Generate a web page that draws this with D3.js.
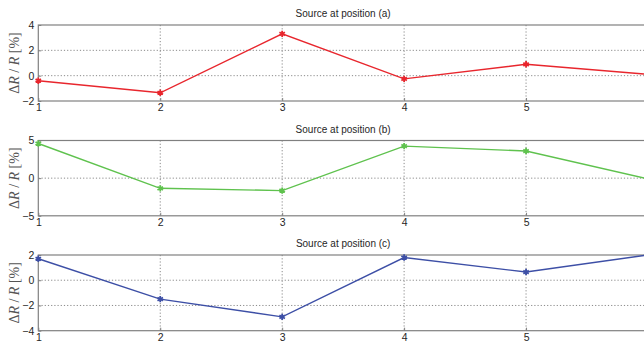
<!DOCTYPE html>
<html>
<head>
<meta charset="utf-8">
<script src="https://cdn.jsdelivr.net/npm/d3@7"></script>
<style>
  html, body { margin: 0; padding: 0; background: #fff; }
  svg { display: block; }
</style>
</head>
<body>
<svg id="chart" width="644" height="344"></svg>
<script>
// Sensor positions along the x axis
const positions = [1, 2, 3, 4, 5, 6];
const xTicks = [1, 2, 3, 4, 5];

// Relative resistance change ΔR/R [%] for each source position
const seriesA = [-0.4, -1.35, 3.3, -0.25, 0.9, 0.1];
const seriesB = [4.6, -1.35, -1.65, 4.25, 3.6, -0.1];
const seriesC = [1.7, -1.5, -2.9, 1.8, 0.65, 2.0];

const titles = ["Source at position (a)", "Source at position (b)", "Source at position (c)"];
const yDomains = [[-2, 4], [-5, 5], [-4, 2]];
const yTicks = [[-2, 0, 2, 4], [-5, 0, 5], [-4, -2, 0, 2]];
const colors = ["#e8262d", "#5fc24e", "#3d4fa6"];
const seriesList = [seriesA, seriesB, seriesC];

const svg = d3.select("#chart");
const x = d3.scaleLinear().domain([1, 6]).range([38.3, 648]);

const panels = [
  { top: 25, bottom: 101 },
  { top: 140.5, bottom: 215.8 },
  { top: 255, bottom: 330.7 }
];

const gridColor = "#8a8a8a";
const boxColor = "#808080";
const textColor = "#262626";
const fmt = d3.format("d");

panels.forEach((p, i) => {
  const y = d3.scaleLinear().domain(yDomains[i]).range([p.bottom, p.top]);
  const g = svg.append("g");

  // dotted grid
  g.selectAll(".gx").data(xTicks.slice(1)).join("line")
    .attr("x1", d => x(d)).attr("x2", d => x(d))
    .attr("y1", p.top).attr("y2", p.bottom)
    .attr("stroke", gridColor).attr("stroke-width", 1)
    .attr("stroke-dasharray", "1.2,2");
  g.selectAll(".gy").data(yTicks[i].filter(t => t !== yDomains[i][0] && t !== yDomains[i][1])).join("line")
    .attr("x1", x(1)).attr("x2", x(6))
    .attr("y1", d => y(d)).attr("y2", d => y(d))
    .attr("stroke", gridColor).attr("stroke-width", 1)
    .attr("stroke-dasharray", "1.2,2");

  // axes box
  g.append("rect")
    .attr("x", x(1)).attr("y", p.top)
    .attr("width", x(6) - x(1)).attr("height", p.bottom - p.top)
    .attr("fill", "none").attr("stroke", boxColor).attr("stroke-width", 1.2);

  // x axis
  const xa = g.append("g").attr("transform", `translate(0,${p.bottom})`)
    .call(d3.axisBottom(x).tickValues(xTicks).tickFormat(fmt).tickSizeInner(-3).tickSizeOuter(0).tickPadding(2.5));
  xa.select(".domain").remove();
  xa.selectAll("line").attr("stroke", boxColor);
  xa.selectAll("text").attr("font-family", "Liberation Sans, Arial, sans-serif")
    .attr("font-size", 10.5).attr("fill", textColor);

  // y axis
  const ya = g.append("g").attr("transform", `translate(${x(1)},0)`)
    .call(d3.axisLeft(y).tickValues(yTicks[i]).tickFormat(fmt).tickSizeInner(-3).tickSizeOuter(0).tickPadding(4));
  ya.select(".domain").remove();
  ya.selectAll("line").attr("stroke", boxColor);
  ya.selectAll("text").attr("font-family", "Liberation Sans, Arial, sans-serif")
    .attr("font-size", 10.5).attr("fill", textColor);

  // title
  g.append("text")
    .attr("x", (x(1) + x(6)) / 2).attr("y", p.top - 8)
    .attr("text-anchor", "middle")
    .attr("font-family", "Liberation Sans, Arial, sans-serif")
    .attr("font-size", 10).attr("fill", textColor)
    .text(titles[i]);

  // y label
  const lab = g.append("text")
    .attr("transform", `translate(19,${(p.top + p.bottom) / 2}) rotate(-90)`)
    .attr("text-anchor", "middle")
    .attr("font-family", "Liberation Serif, Times New Roman, serif")
    .attr("font-size", 14).attr("fill", "#555");
  lab.append("tspan").text("Δ");
  lab.append("tspan").attr("font-style", "italic").text("R");
  lab.append("tspan").text(" / ");
  lab.append("tspan").attr("font-style", "italic").text("R");
  lab.append("tspan").text(" [%]");

  // data line
  const data = positions.map((pos, k) => [pos, seriesList[i][k]]);
  g.append("path").datum(data)
    .attr("fill", "none").attr("stroke", colors[i]).attr("stroke-width", 1.4)
    .attr("d", d3.line().x(d => x(d[0])).y(d => y(d[1])));

  // asterisk markers
  g.selectAll(".mk").data(data).join("path")
    .attr("transform", d => `translate(${x(d[0])},${y(d[1])})`)
    .attr("d", d3.symbol().type(d3.symbolAsterisk).size(28))
    .attr("fill", "none").attr("stroke", colors[i]).attr("stroke-width", 1.8);
});
</script>
</body>
</html>
